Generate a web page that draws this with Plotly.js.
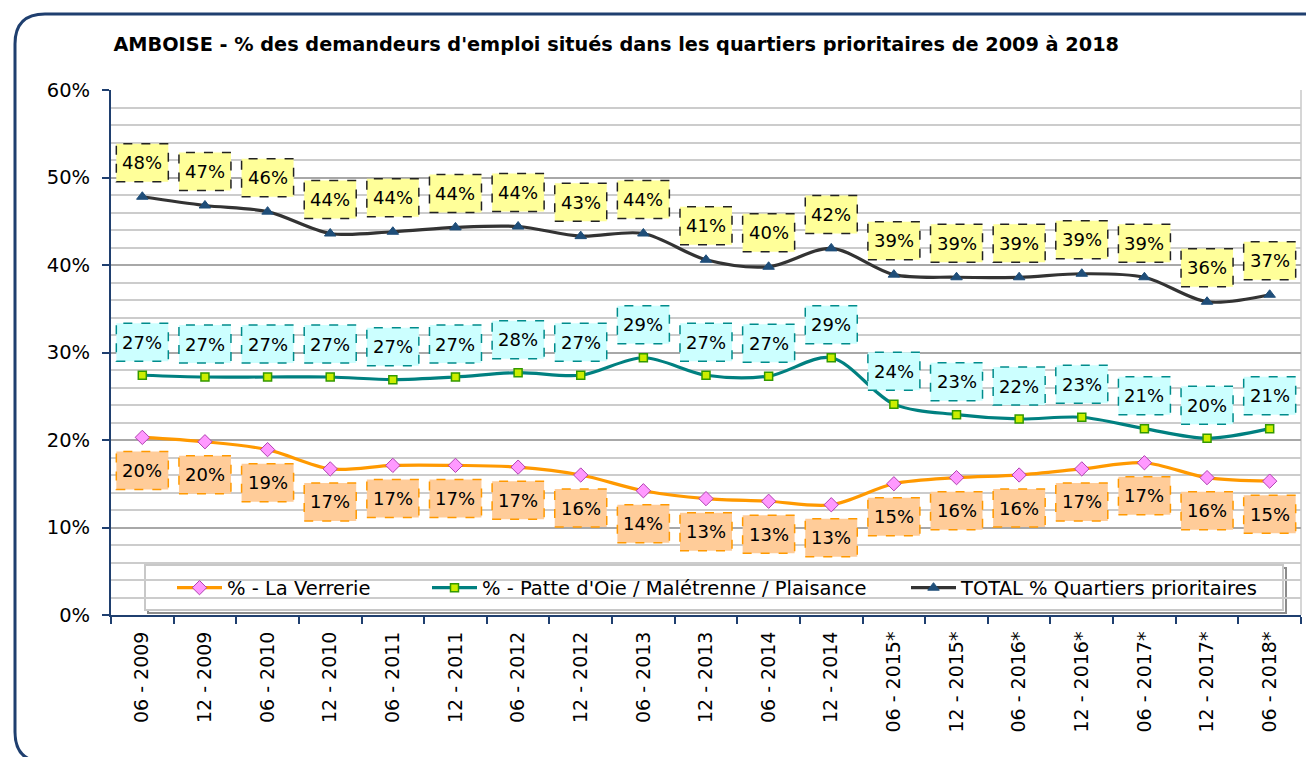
<!DOCTYPE html>
<html>
<head>
<meta charset="utf-8">
<script src="https://cdn.plot.ly/plotly-3.0.1.min.js"></script>
<style>html,body{margin:0;padding:0;background:#fff;}#chart{width:1306px;height:757px;}</style>
</head>
<body>
<div id="chart"></div>
<script>
const categories = ['06 - 2009','12 - 2009','06 - 2010','12 - 2010','06 - 2011','12 - 2011','06 - 2012','12 - 2012','06 - 2013','12 - 2013','06 - 2014','12 - 2014','06 - 2015*','12 - 2015*','06 - 2016*','12 - 2016*','06 - 2017*','12 - 2017*','06 - 2018*'];
const verrerie = [20.3,19.8,18.9,16.7,17.1,17.1,16.9,16.0,14.2,13.3,13.0,12.6,15.0,15.7,16.0,16.7,17.4,15.7,15.3];
const patte    = [27.4,27.2,27.2,27.2,26.9,27.2,27.7,27.4,29.4,27.4,27.3,29.4,24.1,22.9,22.4,22.6,21.3,20.2,21.3];
const total    = [47.8,46.8,46.1,43.6,43.8,44.3,44.4,43.3,43.6,40.6,39.8,41.9,38.9,38.6,38.6,39.0,38.6,35.8,36.6];
const seriesNames = ['% - La Verrerie', "% - Patte d'Oie / Malétrenne / Plaisance", 'TOTAL % Quartiers prioritaires'];
const yTickVals = [0,10,20,30,40,50,60];
const titleText = "AMBOISE - % des demandeurs d'emploi situés dans les quartiers prioritaires de 2009 à 2018";

const FONT = 'DejaVu Sans, Arial, sans-serif';
// plot area geometry (pixels)
const L = 111, T = 90, W = 1190, H = 525;
const px = x => (x - L) / W;
const py = y => (T + H - y) / H;

const traces = [
  {x: categories, y: verrerie, name: seriesNames[0], type: 'scatter', mode: 'lines+markers',
   line: {color: '#FF9900', width: 3.2, shape: 'spline', smoothing: 0.9},
   marker: {symbol: 'diamond', size: 11, color: '#FF99FF', line: {color: '#B040B0', width: 1}},
   legend: 'legend', showlegend: true},
  {x: categories, y: patte, name: seriesNames[1], type: 'scatter', mode: 'lines+markers',
   line: {color: '#008080', width: 3.2, shape: 'spline', smoothing: 0.9},
   marker: {symbol: 'square', size: 8, color: '#CCEE00', line: {color: '#339900', width: 1.5}},
   legend: 'legend2', showlegend: true},
  {x: categories, y: total, name: seriesNames[2], type: 'scatter', mode: 'lines+markers',
   line: {color: '#333333', width: 3.2, shape: 'spline', smoothing: 0.9},
   marker: {symbol: 'triangle-up', size: 10, color: '#1F4E79', line: {color: '#1F4E79', width: 1}},
   legend: 'legend3', showlegend: true}
];

const shapes = [];
const annotations = [];
function addLabels(vals, offset, fill, border) {
  vals.forEach((v, i) => {
    shapes.push({type: 'rect', layer: 'above', xref: 'x', yref: 'y',
      xsizemode: 'pixel', ysizemode: 'pixel', xanchor: i, yanchor: v,
      x0: -26, x1: 26, y0: offset - 19, y1: offset + 19,
      fillcolor: fill, line: {color: border, width: 1.5, dash: 'dash'}});
    annotations.push({x: categories[i], y: v, xref: 'x', yref: 'y', yshift: offset,
      text: Math.round(v) + '%', showarrow: false,
      font: {family: FONT, size: 18, color: '#000'}});
  });
}
addLabels(total, 34, '#FFFF99', '#222222');
addLabels(patte, 33, '#CCFFFF', '#008C8C');
addLabels(verrerie, -33, '#FFCC99', '#FF9900');

// legend box
shapes.push({type: 'rect', layer: 'between', xref: 'paper', yref: 'paper',
  x0: px(148), x1: px(1286), y0: py(613), y1: py(568), fillcolor: 'rgba(0,0,0,0)',
  line: {color: '#8C8C8C', width: 2}});
shapes.push({type: 'rect', layer: 'between', xref: 'paper', yref: 'paper',
  x0: px(145), x1: px(1283), y0: py(610), y1: py(565), fillcolor: '#FFFFFF',
  line: {color: '#C8C8C8', width: 2}});
// right border of plot
shapes.push({type: 'line', layer: 'below', xref: 'paper', yref: 'paper', x0: 1, x1: 1, y0: 0, y1: 1,
  line: {color: '#C8C8C8', width: 1.5}});
// outer rounded frame
const fl = 15, ft = 14, fr = 1340, fb = 762, rad = 30;
const framePath = `M ${px(fl)} ${py(fb - rad)} L ${px(fl)} ${py(ft + rad)} Q ${px(fl)} ${py(ft)} ${px(fl + rad)} ${py(ft)} L ${px(fr)} ${py(ft)} L ${px(fr)} ${py(fb)} L ${px(fl + rad)} ${py(fb)} Q ${px(fl)} ${py(fb)} ${px(fl)} ${py(fb - rad)} Z`;
shapes.push({type: 'path', layer: 'above', xref: 'paper', yref: 'paper', path: framePath,
  line: {color: '#1F3F6F', width: 3}});

const legBase = {orientation: 'h', yanchor: 'middle', xanchor: 'left', y: py(588),
  bgcolor: 'rgba(0,0,0,0)', borderwidth: 0, itemwidth: 45,
  font: {family: FONT, size: 19.5, color: '#000'}};

const layout = {
  width: 1306, height: 757,
  showlegend: true,
  margin: {l: L, r: 1306 - L - W, t: T, b: 757 - T - H},
  paper_bgcolor: '#FFFFFF', plot_bgcolor: '#FFFFFF',
  title: {text: '<b>' + titleText + '</b>', xref: 'paper', x: 0.002, xanchor: 'left',
    yref: 'container', y: 1 - 44 / 757, yanchor: 'middle',
    font: {family: FONT, size: 19.3, color: '#000'}},
  xaxis: {type: 'category', range: [-0.5, categories.length - 0.5], tickson: 'boundaries',
    ticks: 'outside', ticklen: 7, tickwidth: 2, tickcolor: '#1F3F6F',
    showline: true, linecolor: '#1F3F6F', linewidth: 2, showgrid: false,
    ticklabelstandoff: 7,
    tickangle: -90, tickfont: {family: FONT, size: 19, color: '#000'}, fixedrange: true},
  yaxis: {range: [0, 60], tickvals: yTickVals, ticktext: yTickVals.map(v => v + '%'),
    ticks: 'outside', ticklen: 7, tickwidth: 2, tickcolor: '#1F3F6F',
    showline: true, linecolor: '#1F3F6F', linewidth: 2,
    showgrid: true, gridcolor: '#A8A8A8', gridwidth: 2, zeroline: false,
    minor: {dtick: 2, showgrid: true, gridcolor: '#CCCCCC', gridwidth: 2, ticks: ''},
    ticklabelstandoff: 8,
    tickfont: {family: FONT, size: 19.5, color: '#000'}, fixedrange: true},
  legend: Object.assign({}, legBase, {x: px(172)}),
  legend2: Object.assign({}, legBase, {x: px(427)}),
  legend3: Object.assign({}, legBase, {x: px(906)}),
  shapes: shapes,
  annotations: annotations
};

Plotly.newPlot('chart', traces, layout, {displayModeBar: false, staticPlot: true});
</script>
</body>
</html>
